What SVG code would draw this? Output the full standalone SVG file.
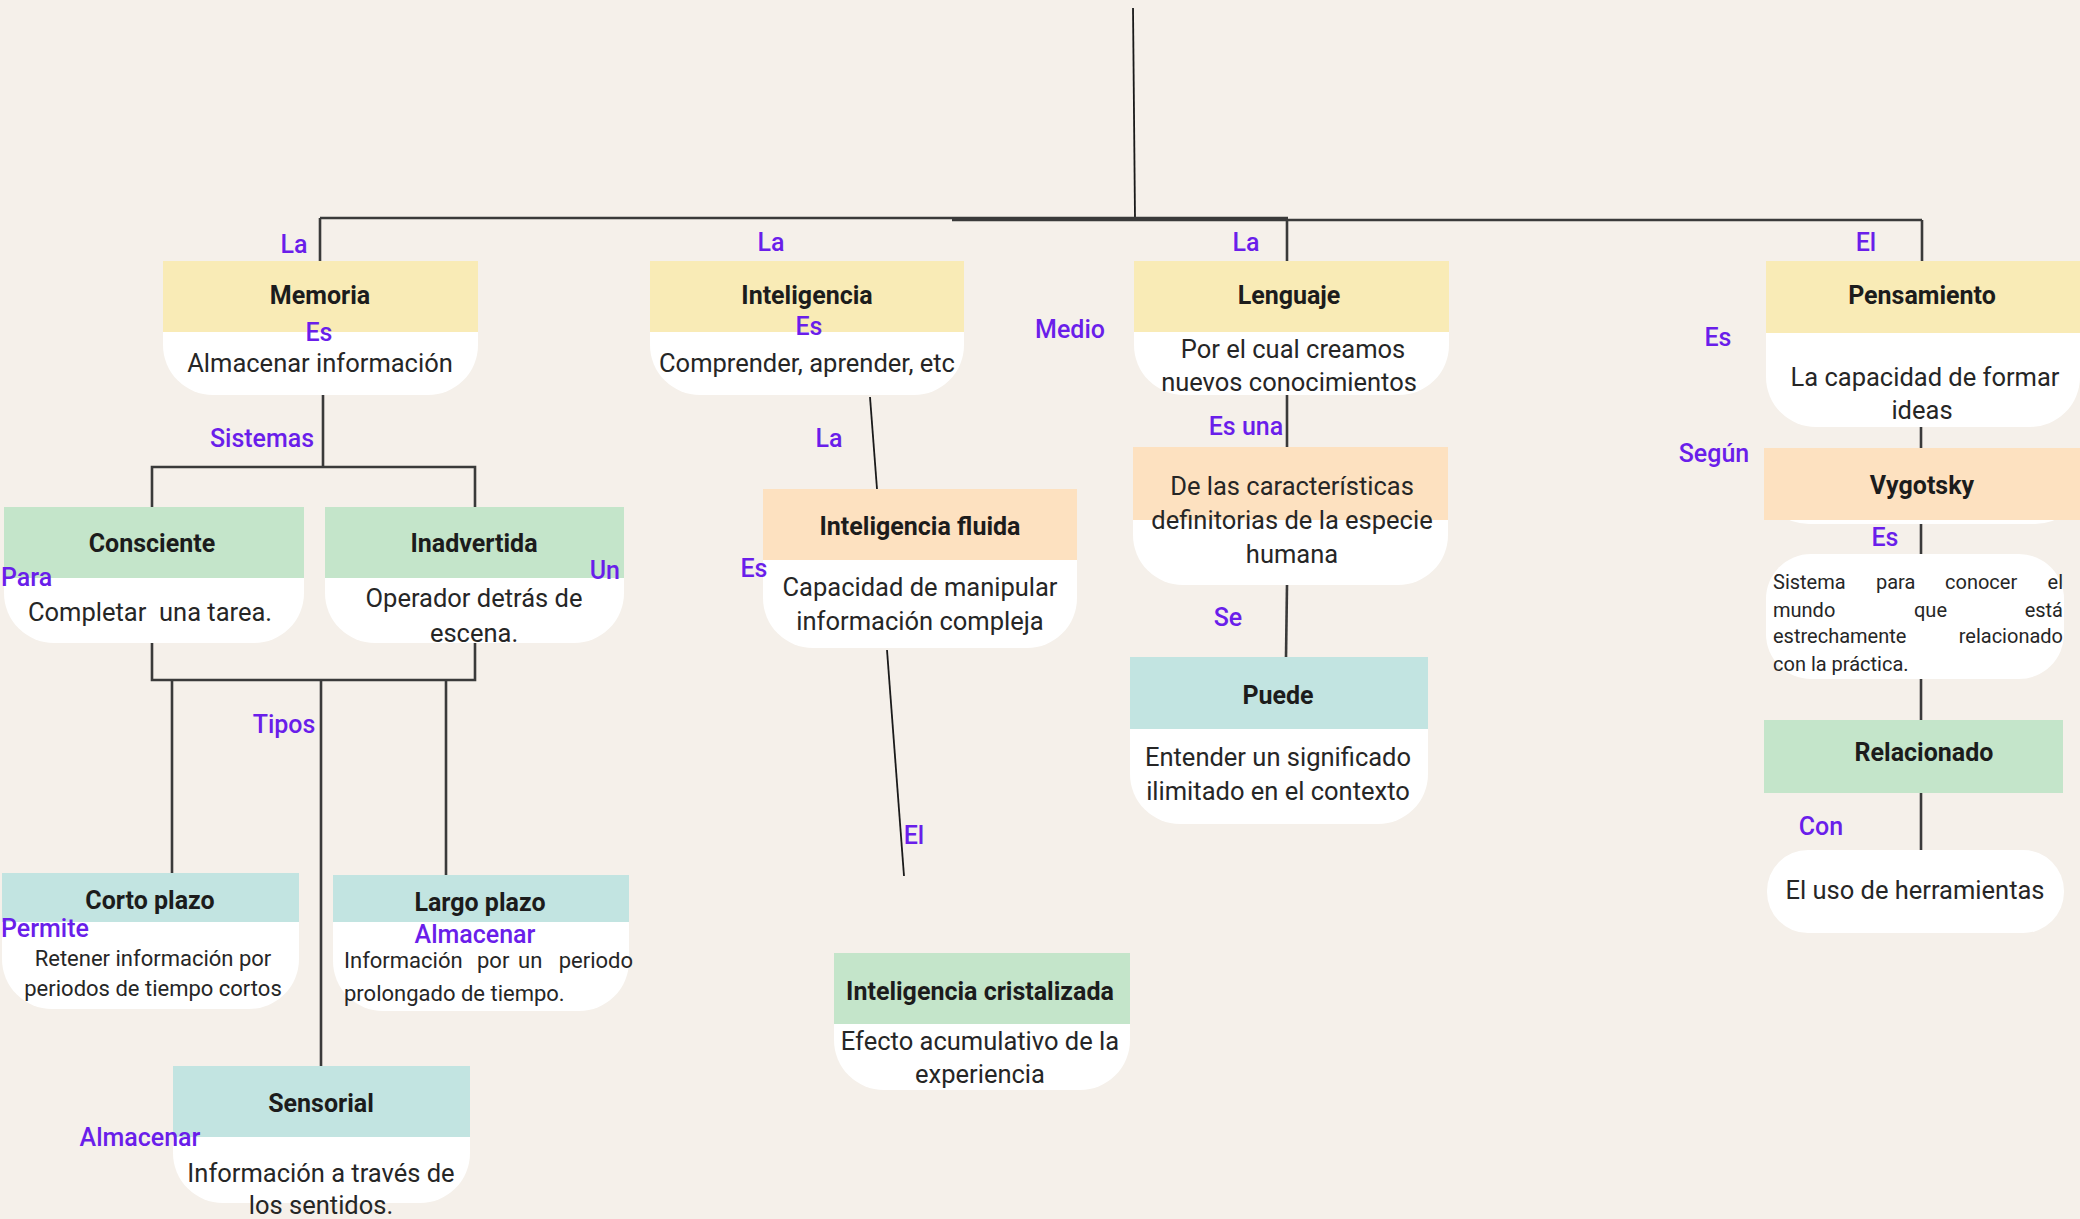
<svg xmlns="http://www.w3.org/2000/svg" width="2080" height="1219" viewBox="0 0 2080 1219">
<style>
.bg{fill:#F5F0EA}
.body{fill:#FFFFFF}
.y{fill:#F9EBB6}
.p{fill:#FDE1C0}
.g{fill:#C4E5CA}
.t{fill:#C2E4E1}
text{font-family:Roboto,"Open Sans","Liberation Sans",sans-serif}
.h{font-size:25px;font-weight:700;fill:#1c1c1c;text-anchor:middle}
.b{font-size:25.5px;fill:#262626;text-anchor:middle}
.s{font-size:22px;fill:#262626;text-anchor:middle}
.sj{font-size:20px;fill:#262626}
.l{font-size:25px;font-weight:500;fill:#6A1EEA;text-anchor:middle}
.c{stroke:#3a3a3a;stroke-width:2.6;fill:none}
.ct{stroke:#1a1a1a;stroke-width:1.8;fill:none}
</style>
<rect class="bg" x="0" y="0" width="2080" height="1219"/>

<g id="connectors">
<line class="ct" x1="1133" y1="8" x2="1135" y2="219"/>
<line class="c" x1="320" y1="218" x2="1288" y2="218"/>
<line class="c" x1="952" y1="220" x2="1922" y2="220"/>
<line class="c" x1="320" y1="218" x2="320" y2="261"/>
<line class="c" x1="1287" y1="219" x2="1287" y2="261"/>
<line class="c" x1="1922" y1="220" x2="1922" y2="261"/>
<line class="c" x1="323" y1="395" x2="323" y2="467"/>
<polyline class="c" points="152,507 152,467 475,467 475,507"/>
<polyline class="c" points="152,643 152,680 475,680 475,643"/>
<line class="c" x1="172" y1="680" x2="172" y2="873"/>
<line class="c" x1="446" y1="680" x2="446" y2="875"/>
<line class="c" x1="321" y1="680" x2="321" y2="1066"/>
<line class="ct" x1="870" y1="397" x2="877" y2="489"/>
<line class="ct" x1="887" y1="650" x2="904" y2="876"/>
<line class="c" x1="1287" y1="395" x2="1287" y2="447"/>
<line class="c" x1="1287" y1="585" x2="1286" y2="657"/>
<line class="c" x1="1921" y1="427" x2="1921" y2="448"/>
<line class="c" x1="1921" y1="524" x2="1921" y2="554"/>
<line class="c" x1="1921" y1="679" x2="1921" y2="720"/>
<line class="c" x1="1921" y1="793" x2="1921" y2="850"/>
</g>

<g id="memoria">
<rect class="body" x="163" y="261" width="315" height="134" rx="50"/>
<rect class="y" x="163" y="261" width="315" height="71"/>
<text class="h" x="320" y="304">Memoria</text>
<text class="l" x="319" y="341">Es</text>
<text class="b" x="320" y="372">Almacenar información</text>
</g>

<g id="inteligencia">
<rect class="body" x="650" y="261" width="314" height="134" rx="50"/>
<rect class="y" x="650" y="261" width="314" height="71"/>
<text class="h" x="807" y="304">Inteligencia</text>
<text class="l" x="809" y="335">Es</text>
<text class="b" x="807" y="372">Comprender, aprender, etc</text>
</g>

<g id="lenguaje">
<rect class="body" x="1134" y="261" width="315" height="134" rx="50"/>
<rect class="y" x="1134" y="261" width="315" height="71"/>
<text class="h" x="1289" y="304">Lenguaje</text>
<text class="b" x="1293" y="358">Por el cual creamos</text>
<text class="b" x="1289" y="391">nuevos conocimientos</text>
</g>

<g id="pensamiento">
<rect class="body" x="1766" y="261" width="314" height="166" rx="50"/>
<rect class="y" x="1766" y="261" width="314" height="72"/>
<text class="h" x="1922" y="304">Pensamiento</text>
<text class="b" x="1925" y="386">La capacidad de formar</text>
<text class="b" x="1922" y="419">ideas</text>
</g>

<g id="consciente">
<rect class="body" x="4" y="507" width="300" height="136" rx="50"/>
<rect class="g" x="4" y="507" width="300" height="71"/>
<text class="h" x="152" y="552">Consciente</text>
<text class="b" x="150" y="621" xml:space="preserve">Completar  una tarea.</text>
</g>

<g id="inadvertida">
<rect class="body" x="325" y="507" width="299" height="136" rx="50"/>
<rect class="g" x="325" y="507" width="299" height="71"/>
<text class="h" x="474" y="552">Inadvertida</text>
<text class="b" x="474" y="607">Operador detrás de</text>
<text class="b" x="474" y="642">escena.</text>
</g>

<g id="corto-plazo">
<rect class="body" x="2" y="873" width="297" height="136" rx="50"/>
<rect class="t" x="2" y="873" width="297" height="49"/>
<text class="h" x="150" y="909">Corto plazo</text>
<text class="s" x="153" y="966">Retener información por</text>
<text class="s" x="153" y="996">periodos de tiempo cortos</text>
</g>

<g id="largo-plazo">
<rect class="body" x="333" y="875" width="296" height="136" rx="50"/>
<rect class="t" x="333" y="875" width="296" height="47"/>
<text class="h" x="480" y="911">Largo plazo</text>
<text class="s" x="344" y="968" style="text-anchor:start">Información</text>
<text class="s" x="477" y="968" style="text-anchor:start">por</text>
<text class="s" x="518" y="968" style="text-anchor:start">un</text>
<text class="s" x="633" y="968" style="text-anchor:end">periodo</text>
<text class="s" x="344" y="1001" style="text-anchor:start">prolongado de tiempo.</text>
</g>

<g id="sensorial">
<rect class="body" x="173" y="1066" width="297" height="137" rx="50"/>
<rect class="t" x="173" y="1066" width="297" height="71"/>
<text class="h" x="321" y="1112">Sensorial</text>
<text class="b" x="321" y="1182">Información a través de</text>
<text class="b" x="321" y="1214">los sentidos.</text>
</g>

<g id="inteligencia-fluida">
<rect class="body" x="763" y="489" width="314" height="159" rx="50"/>
<rect class="p" x="763" y="489" width="314" height="71"/>
<text class="h" x="920" y="535">Inteligencia fluida</text>
<text class="b" x="920" y="596">Capacidad de manipular</text>
<text class="b" x="920" y="630">información compleja</text>
</g>

<g id="inteligencia-cristalizada">
<rect class="body" x="834" y="953" width="296" height="137" rx="50"/>
<rect class="g" x="834" y="953" width="296" height="71"/>
<text class="h" x="980" y="1000">Inteligencia cristalizada</text>
<text class="b" x="980" y="1050">Efecto acumulativo de la</text>
<text class="b" x="980" y="1083">experiencia</text>
</g>

<g id="caracteristicas">
<rect class="body" x="1133" y="447" width="315" height="138" rx="50"/>
<rect class="p" x="1133" y="447" width="315" height="73"/>
<text class="b" x="1292" y="495">De las características</text>
<text class="b" x="1292" y="529">definitorias de la especie</text>
<text class="b" x="1292" y="563">humana</text>
</g>

<g id="puede">
<rect class="body" x="1130" y="657" width="298" height="167" rx="50"/>
<rect class="t" x="1130" y="657" width="298" height="72"/>
<text class="h" x="1278" y="704">Puede</text>
<text class="b" x="1278" y="766">Entender un significado</text>
<text class="b" x="1278" y="800">ilimitado en el contexto</text>
</g>

<g id="vygotsky">
<rect class="body" x="1764" y="448" width="316" height="76" rx="45"/>
<rect class="p" x="1764" y="448" width="316" height="72"/>
<text class="h" x="1922" y="494">Vygotsky</text>
</g>

<g id="sistema">
<rect class="body" x="1766" y="554" width="298" height="125" rx="45"/>
<text class="sj" x="1773" y="589">Sistema</text>
<text class="sj" x="1876" y="589">para</text>
<text class="sj" x="1945" y="589">conocer</text>
<text class="sj" x="2063" y="589" style="text-anchor:end">el</text>
<text class="sj" x="1773" y="617">mundo</text>
<text class="sj" x="1914" y="617">que</text>
<text class="sj" x="2063" y="617" style="text-anchor:end">está</text>
<text class="sj" x="1773" y="643">estrechamente</text>
<text class="sj" x="2063" y="643" style="text-anchor:end">relacionado</text>
<text class="sj" x="1773" y="671">con la práctica.</text>
</g>

<g id="relacionado">
<rect class="g" x="1764" y="720" width="299" height="73"/>
<text class="h" x="1924" y="761">Relacionado</text>
</g>

<g id="herramientas">
<rect class="body" x="1767" y="850" width="297" height="83" rx="41"/>
<text class="b" x="1915" y="899">El uso de herramientas</text>
</g>

<g id="labels">
<text class="l" x="294" y="253">La</text>
<text class="l" x="771" y="251">La</text>
<text class="l" x="1246" y="251">La</text>
<text class="l" x="1866" y="251">El</text>
<text class="l" x="1070" y="338">Medio</text>
<text class="l" x="1718" y="346">Es</text>
<text class="l" x="1714" y="462">Según</text>
<text class="l" x="1885" y="546">Es</text>
<text class="l" x="1821" y="835">Con</text>
<text class="l" x="262" y="447">Sistemas</text>
<text class="l" x="1" y="586" style="text-anchor:start">Para</text>
<text class="l" x="620" y="579" style="text-anchor:end">Un</text>
<text class="l" x="284" y="733">Tipos</text>
<text class="l" x="1" y="937" style="text-anchor:start">Permite</text>
<text class="l" x="475" y="943">Almacenar</text>
<text class="l" x="140" y="1146">Almacenar</text>
<text class="l" x="829" y="447">La</text>
<text class="l" x="754" y="577">Es</text>
<text class="l" x="1246" y="435">Es una</text>
<text class="l" x="1228" y="626">Se</text>
<text class="l" x="914" y="844">El</text>
</g>
</svg>
